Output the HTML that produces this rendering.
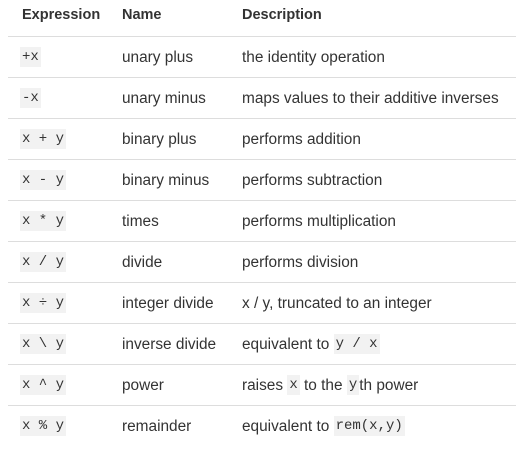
<!DOCTYPE html>
<html><head><style>
body{margin:0;width:520px;height:451px;background:#fff;font-family:"Liberation Sans",sans-serif;color:#333;position:relative;overflow:hidden}
.h{position:absolute;top:7px;font-weight:bold;font-size:14.5px;color:#333}
.line{position:absolute;left:8px;width:508px;height:1px;background:#ddd}
.t{position:absolute;font-size:15.4px;line-height:20px;white-space:nowrap}
code{display:inline-block;height:20px;line-height:20px;vertical-align:top;font-family:"Liberation Mono",monospace;font-size:14px;background:#f2f2f2;padding:0 2px;color:#333;white-space:pre}
</style></head><body>
<div class="h" style="left:22px">Expression</div>
<div class="h" style="left:122px">Name</div>
<div class="h" style="left:242px">Description</div>
<div class="line" style="top:36px"></div>
<div class="line" style="top:77px"></div>
<div class="line" style="top:118px"></div>
<div class="line" style="top:159px"></div>
<div class="line" style="top:200px"></div>
<div class="line" style="top:241px"></div>
<div class="line" style="top:282px"></div>
<div class="line" style="top:323px"></div>
<div class="line" style="top:364px"></div>
<div class="line" style="top:405px"></div>

<div class="t" style="left:20px;top:47px"><code>+x</code></div>
<div class="t" style="left:122px;top:48px">unary plus</div>
<div class="t" style="left:242px;top:48px">the identity operation</div>

<div class="t" style="left:20px;top:88px"><code>-x</code></div>
<div class="t" style="left:122px;top:89px">unary minus</div>
<div class="t" style="left:242px;top:89px">maps values to their additive inverses</div>

<div class="t" style="left:20px;top:129px"><code>x + y</code></div>
<div class="t" style="left:122px;top:130px">binary plus</div>
<div class="t" style="left:242px;top:130px">performs addition</div>

<div class="t" style="left:20px;top:170px"><code>x - y</code></div>
<div class="t" style="left:122px;top:171px">binary minus</div>
<div class="t" style="left:242px;top:171px">performs subtraction</div>

<div class="t" style="left:20px;top:211px"><code>x * y</code></div>
<div class="t" style="left:122px;top:212px">times</div>
<div class="t" style="left:242px;top:212px">performs multiplication</div>

<div class="t" style="left:20px;top:252px"><code>x / y</code></div>
<div class="t" style="left:122px;top:253px">divide</div>
<div class="t" style="left:242px;top:253px">performs division</div>

<div class="t" style="left:20px;top:293px"><code>x ÷ y</code></div>
<div class="t" style="left:122px;top:294px">integer divide</div>
<div class="t" style="left:242px;top:294px">x / y, truncated to an integer</div>

<div class="t" style="left:20px;top:334px"><code>x \ y</code></div>
<div class="t" style="left:122px;top:335px">inverse divide</div>
<div class="t" style="left:242px;top:335px">equivalent to <code style="margin-top:-1px">y / x</code></div>

<div class="t" style="left:20px;top:375px"><code>x ^ y</code></div>
<div class="t" style="left:122px;top:376px">power</div>
<div class="t" style="left:242px;top:376px">raises <code style="margin-top:-1px">x</code> to the <code style="margin-top:-1px">y</code>th power</div>

<div class="t" style="left:20px;top:416px"><code>x % y</code></div>
<div class="t" style="left:122px;top:417px">remainder</div>
<div class="t" style="left:242px;top:417px">equivalent to <code style="margin-top:-1px">rem(x,y)</code></div>
</body></html>
